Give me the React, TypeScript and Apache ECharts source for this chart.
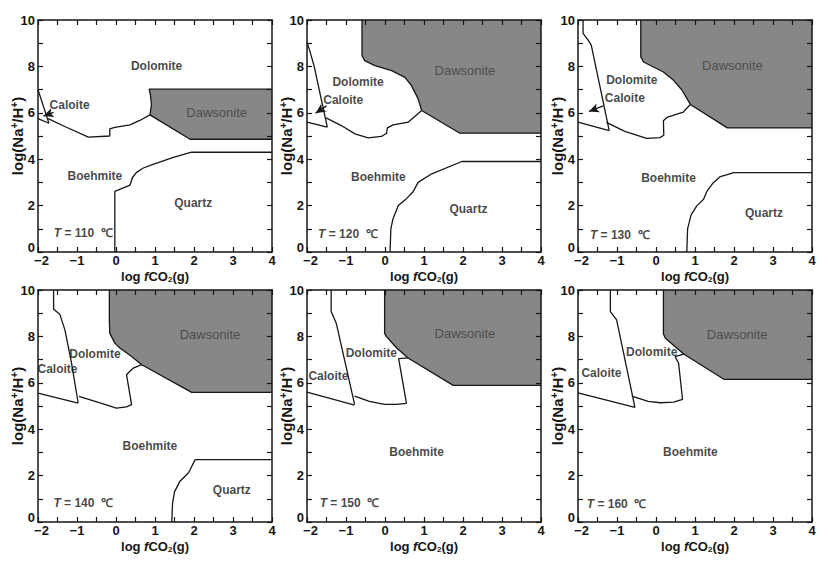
import React, { useEffect, useRef } from "react";
import * as echarts from "echarts";

// ---------- axes ----------
const X_MIN = -2;
const X_MAX = 4;
const Y_MIN = 0;
const Y_MAX = 10;
const xTickValues = [-2, -1, 0, 1, 2, 3, 4];
const yTickValues = [0, 2, 4, 6, 8, 10];
const temperatures = [110, 120, 130, 140, 150, 160];

// ---------- T = 110 ----------
const calDol110 = [[-2, 7.0], [-1.72, 5.55]];
const calBoe110 = [[-2, 5.75], [-1.72, 5.55]];
const boeDol110 = [[-1.74, 5.75], [-1.3, 5.4], [-0.71, 4.95], [-0.16, 5.0], [-0.16, 5.31], [-0.03, 5.37], [0.36, 5.48], [0.61, 5.67], [0.87, 5.91]];
const dolDaw110 = [[0.87, 5.91], [0.91, 6.35], [0.88, 6.8], [0.85, 7.02], [4, 7.02]];
const dawBoe110 = [[0.87, 5.91], [1.9, 4.86], [4, 4.86]];
const boeQtz110 = [[-0.03, 0], [-0.03, 2.61], [0.36, 2.88], [0.42, 3.2], [0.52, 3.42], [0.7, 3.62], [0.95, 3.78], [1.47, 4.08], [1.94, 4.3], [4, 4.3]];
const arrow110 = [[-1.6, 6.02], [-1.86, 5.86]];

// ---------- T = 120 ----------
const calDol120 = [[-2, 9.04], [-1.93, 8.68], [-1.82, 8.03], [-1.48, 5.38]];
const calBoe120 = [[-2, 5.6], [-1.48, 5.38]];
const boeDol120 = [[-1.51, 5.78], [-1.12, 5.45], [-0.77, 5.09], [-0.43, 4.92], [-0.09, 4.98], [0.04, 5.12], [0.06, 5.35], [0.21, 5.48], [0.6, 5.6], [0.94, 6.1]];
const dolDaw120 = [[0.94, 6.1], [0.85, 6.6], [0.68, 7.17], [0.51, 7.53], [0.17, 7.82], [-0.26, 8.03], [-0.52, 8.25], [-0.59, 8.46], [-0.59, 10]];
const dawBoe120 = [[0.94, 6.1], [1.92, 5.12], [4, 5.12]];
const boeQtz120 = [[0.13, 0], [0.15, 1.0], [0.2, 1.4], [0.34, 2.0], [0.55, 2.3], [0.72, 2.6], [0.85, 3.0], [1.2, 3.37], [1.97, 3.9], [4, 3.9]];
const arrow120 = [[-1.5, 6.3], [-1.78, 5.98]];

// ---------- T = 130 ----------
const calDol130 = [[-1.87, 10], [-1.87, 9.42], [-1.74, 9.13], [-1.66, 8.92], [-1.2, 5.23]];
const calBoe130 = [[-2, 5.6], [-1.2, 5.23]];
const boeDol130 = [[-1.27, 5.59], [-0.8, 5.2], [-0.24, 4.9], [0.1, 4.93], [0.2, 5.03], [0.19, 5.66], [0.28, 5.8], [0.7, 6.03], [0.88, 6.36]];
const dolDaw130 = [[0.88, 6.36], [0.67, 6.97], [0.45, 7.4], [0.19, 7.76], [-0.32, 8.19], [-0.39, 8.41], [-0.39, 10]];
const dawBoe130 = [[0.88, 6.36], [1.83, 5.35], [4, 5.35]];
const boeQtz130 = [[0.79, 0], [0.81, 1.0], [0.9, 1.6], [1.05, 2.0], [1.22, 2.27], [1.3, 2.6], [1.45, 2.95], [1.65, 3.25], [2.0, 3.42], [4, 3.42]];
const arrow130 = [[-1.35, 6.3], [-1.72, 6.06]];

// ---------- T = 140 ----------
const calDol140 = [[-1.6, 10], [-1.6, 9.17], [-1.44, 8.95], [-1.31, 8.28], [-1.14, 6.85], [-0.97, 5.13]];
const calBoe140 = [[-2, 5.56], [-0.97, 5.12]];
const boeDol140 = [[-0.95, 5.42], [-0.41, 5.13], [0.01, 4.91], [0.27, 4.96], [0.4, 5.06], [0.27, 6.35], [0.31, 6.42], [0.44, 6.63], [0.66, 6.78]];
const dolDaw140 = [[0.66, 6.78], [0.4, 7.13], [0.1, 7.5], [-0.03, 7.71], [-0.16, 8.14], [-0.17, 8.71], [-0.17, 10]];
const dawBoe140 = [[0.66, 6.78], [1.94, 5.59], [4, 5.59]];
const boeQtz140 = [[1.43, 0], [1.45, 0.8], [1.5, 1.3], [1.64, 1.76], [1.86, 2.12], [2.03, 2.69], [4, 2.69]];

// ---------- T = 150 ----------
const calDol150 = [[-1.38, 10], [-1.38, 9.07], [-1.25, 8.57], [-0.78, 5.07]];
const calBoe150 = [[-2, 5.6], [-0.78, 5.04]];
const boeDol150 = [[-0.78, 5.43], [-0.4, 5.2], [-0.01, 5.07], [0.29, 5.07], [0.55, 5.11], [0.35, 7.04], [0.59, 7.07]];
const dolDaw150 = [[0.59, 7.07], [0.3, 7.5], [0.03, 8.0], [-0.01, 8.14], [-0.01, 10]];
const dawBoe150 = [[0.59, 7.07], [1.75, 5.89], [4, 5.89]];

// ---------- T = 160 ----------
const calDol160 = [[-1.17, 10], [-1.17, 9.07], [-1.01, 8.71], [-0.54, 4.94]];
const calBoe160 = [[-2, 5.57], [-0.54, 4.94]];
const boeDol160 = [[-0.62, 5.43], [-0.2, 5.2], [0.11, 5.14], [0.45, 5.17], [0.68, 5.29], [0.58, 6.84], [0.49, 7.13], [0.6, 7.18], [0.71, 7.24]];
const dolDaw160 = [[0.71, 7.24], [0.24, 7.92], [0.19, 8.1], [0.19, 10]];
const dawBoe160 = [[0.71, 7.24], [1.74, 6.15], [4, 6.15]];

const panelsData = [
  { T: temperatures[0], lines: [calDol110, calBoe110, boeDol110, dolDaw110, dawBoe110, boeQtz110], dolDaw: dolDaw110, dawBoe: dawBoe110, arrow: arrow110 },
  { T: temperatures[1], lines: [calDol120, calBoe120, boeDol120, dolDaw120, dawBoe120, boeQtz120], dolDaw: dolDaw120, dawBoe: dawBoe120, arrow: arrow120 },
  { T: temperatures[2], lines: [calDol130, calBoe130, boeDol130, dolDaw130, dawBoe130, boeQtz130], dolDaw: dolDaw130, dawBoe: dawBoe130, arrow: arrow130 },
  { T: temperatures[3], lines: [calDol140, calBoe140, boeDol140, dolDaw140, dawBoe140, boeQtz140], dolDaw: dolDaw140, dawBoe: dawBoe140, arrow: null },
  { T: temperatures[4], lines: [calDol150, calBoe150, boeDol150, dolDaw150, dawBoe150], dolDaw: dolDaw150, dawBoe: dawBoe150, arrow: null },
  { T: temperatures[5], lines: [calDol160, calBoe160, boeDol160, dolDaw160, dawBoe160], dolDaw: dolDaw160, dawBoe: dawBoe160, arrow: null },
];

// label anchors (data coordinates) for each panel
const labelLayout = [
  { Dolomite: [1.04, 8.0], Caloite: [-1.19, 6.34], Dawsonite: [2.58, 6.01], Boehmite: [-0.54, 3.26], Quartz: [1.98, 2.11], T: [-0.84, 0.82] },
  { Dolomite: [-0.69, 7.32], Caloite: [-1.07, 6.56], Dawsonite: [2.05, 7.82], Boehmite: [-0.17, 3.23], Quartz: [2.14, 1.87], T: [-0.95, 0.79] },
  { Dolomite: [-0.62, 7.4], Caloite: [-0.8, 6.65], Dawsonite: [1.96, 8.05], Boehmite: [0.32, 3.21], Quartz: [2.77, 1.69], T: [-0.93, 0.75] },
  { Dolomite: [-0.54, 7.25], Caloite: [-1.5, 6.59], Dawsonite: [2.41, 8.07], Boehmite: [0.87, 3.27], Quartz: [2.97, 1.38], T: [-0.84, 0.8] },
  { Dolomite: [-0.35, 7.29], Caloite: [-1.45, 6.29], Dawsonite: [2.05, 8.14], Boehmite: [0.81, 3.0], T: [-0.91, 0.83] },
  { Dolomite: [-0.11, 7.34], Caloite: [-1.4, 6.41], Dawsonite: [2.08, 8.1], Boehmite: [0.88, 3.0], T: [-1.01, 0.78] },
];

const colLefts = [38, 307, 578];
const rowTops = [20, 290];
const gridW = 234;
const gridH = 232;

const FONT = "Liberation Sans, Arial, Helvetica, sans-serif";
const INK = "#161616";
const FILL = "#878787";

function buildOption() {
  const grid: any[] = [];
  const xAxis: any[] = [];
  const yAxis: any[] = [];
  const series: any[] = [];
  const axisLineStyle = { color: INK, width: 1.5 };
  const tickStyle = { color: INK, width: 1.2 };
  const tickFont = { fontSize: 13, fontWeight: "bold", color: INK, fontFamily: FONT };

  panelsData.forEach((p, i) => {
    const col = i % 3;
    const row = Math.floor(i / 3);
    grid.push({ left: colLefts[col], top: rowTops[row], width: gridW, height: gridH });

    const baseX = {
      type: "value", gridIndex: i, min: X_MIN, max: X_MAX, interval: 1, z: 5,
      splitLine: { show: false },
      axisLine: { show: true, onZero: false, lineStyle: axisLineStyle },
      axisTick: { show: true, inside: true, length: 5, lineStyle: tickStyle },
      minorTick: { show: true, splitNumber: 2, length: 5, lineStyle: tickStyle },
      minorSplitLine: { show: false },
    };
    xAxis.push({
      ...baseX, position: "bottom",
      axisLabel: {
        show: true, margin: 2, ...tickFont,
        showMinLabel: true, showMaxLabel: true,
        formatter: (v: number) => {
          if (!xTickValues.includes(v)) return "";
          if (v === X_MIN) return "{first|\u2212" + Math.abs(v) + "}";
          return v < 0 ? "\u2212" + Math.abs(v) : String(v);
        },
        rich: { first: { ...tickFont, padding: [0, 0, 0, 7] } },
      },
      name: "log {i|f}CO{sub|2}(g)",
      nameLocation: "middle",
      nameGap: 18,
      nameMoveOverlap: false,
      nameTextStyle: {
        fontSize: 13, fontWeight: "bold", color: INK, fontFamily: FONT, verticalAlign: "top",
        rich: {
          i: { fontSize: 13, fontStyle: "italic", fontWeight: "bold", color: INK, fontFamily: FONT },
          sub: { fontSize: 8, fontWeight: "bold", color: INK, fontFamily: FONT, verticalAlign: "bottom", padding: [5, 0, 0, 0] },
        },
      },
    });
    xAxis.push({ ...baseX, position: "top", axisLabel: { show: false } });

    const baseY = {
      type: "value", gridIndex: i, min: Y_MIN, max: Y_MAX, interval: 2, z: 5,
      splitLine: { show: false },
      axisLine: { show: true, onZero: false, lineStyle: axisLineStyle },
      axisTick: { show: true, inside: true, length: 5, lineStyle: tickStyle },
      minorTick: { show: true, splitNumber: 2, length: 5, lineStyle: tickStyle },
      minorSplitLine: { show: false },
    };
    yAxis.push({
      ...baseY, position: "left",
      axisLabel: {
        show: true, margin: 3, ...tickFont,
        showMinLabel: true, showMaxLabel: true,
        formatter: (v: number) => {
          if (!yTickValues.includes(v)) return "";
          if (v === Y_MIN) return "{first|" + v + "}";
          return String(v);
        },
        rich: { first: { ...tickFont, padding: [0, 0, 9, 0] } },
      },
      name: "log(Na{sup|+}/H{sup|+})",
      nameLocation: "middle",
      nameGap: 13,
      nameMoveOverlap: false,
      nameTextStyle: {
        fontSize: 15, fontWeight: "bold", color: INK, fontFamily: FONT,
        rich: {
          sup: { fontSize: 10, fontWeight: "bold", color: INK, fontFamily: FONT, verticalAlign: "top", padding: [0, 0, 6, 0] },
        },
      },
    });
    yAxis.push({ ...baseY, position: "right", axisLabel: { show: false } });

    const xi = i * 2;
    const yi = i * 2;

    // Dawsonite field polygon
    const last = p.dolDaw[p.dolDaw.length - 1];
    const poly: number[][] = [...p.dolDaw];
    if (last[1] === Y_MAX) poly.push([X_MAX, Y_MAX]);
    poly.push(...p.dawBoe.slice().reverse());
    series.push({
      type: "custom", xAxisIndex: xi, yAxisIndex: yi, silent: true, z: 1,
      data: poly,
      renderItem: (params: any, api: any) => {
        if (params.dataIndex !== 0) return null;
        const pts = poly.map((pt) => api.coord(pt));
        return { type: "polygon", shape: { points: pts }, style: { fill: FILL, stroke: "none" } };
      },
    });

    // phase boundaries
    p.lines.forEach((ln, k) => {
      const s: any = {
        type: "line", xAxisIndex: xi, yAxisIndex: yi, data: ln, showSymbol: false, symbol: "none",
        silent: true, z: 3, lineStyle: { color: INK, width: 1.3 }, emphasis: { disabled: true },
      };
      if (k === 0 && p.arrow) {
        s.markLine = {
          silent: true, symbol: ["none", "arrow"], symbolSize: [7, 10], animation: false,
          lineStyle: { color: INK, type: "solid", width: 1.3 }, label: { show: false },
          data: [[{ coord: p.arrow[0] }, { coord: p.arrow[1] }]],
        };
      }
      series.push(s);
    });

    // region labels
    const lay: any = labelLayout[i];
    const items: any[] = [];
    Object.keys(lay).forEach((key) => {
      if (key === "T") {
        items.push({
          value: lay[key], name: "T",
          label: { formatter: `{i|T} = ${p.T}  \u2103` },
        });
      } else if (key === "Dawsonite") {
        items.push({
          value: lay[key], name: key,
          label: { formatter: key, fontWeight: "normal", color: "#3c3c3c", fontSize: 13 },
        });
      } else {
        items.push({ value: lay[key], name: key, label: { formatter: key } });
      }
    });
    series.push({
      type: "scatter", xAxisIndex: xi, yAxisIndex: yi, symbolSize: 0, silent: true, z: 6,
      data: items,
      label: {
        show: true, position: "inside", fontSize: 12, fontWeight: "bold", color: INK, fontFamily: FONT,
        rich: { i: { fontStyle: "italic", fontWeight: "bold", fontSize: 12, color: INK, fontFamily: FONT } },
      },
    });
  });

  return { animation: false, backgroundColor: "#ffffff", grid, xAxis, yAxis, series };
}

export default function App() {
  const ref = useRef<HTMLDivElement>(null);
  useEffect(() => {
    if (!ref.current) return;
    const chart = echarts.init(ref.current, undefined, { renderer: "svg" });
    chart.setOption(buildOption() as any);
    return () => chart.dispose();
  }, []);
  return (
    <div
      ref={ref}
      style={{ position: "fixed", left: 0, top: 0, width: 829, height: 568, background: "#fff" }}
    />
  );
}
